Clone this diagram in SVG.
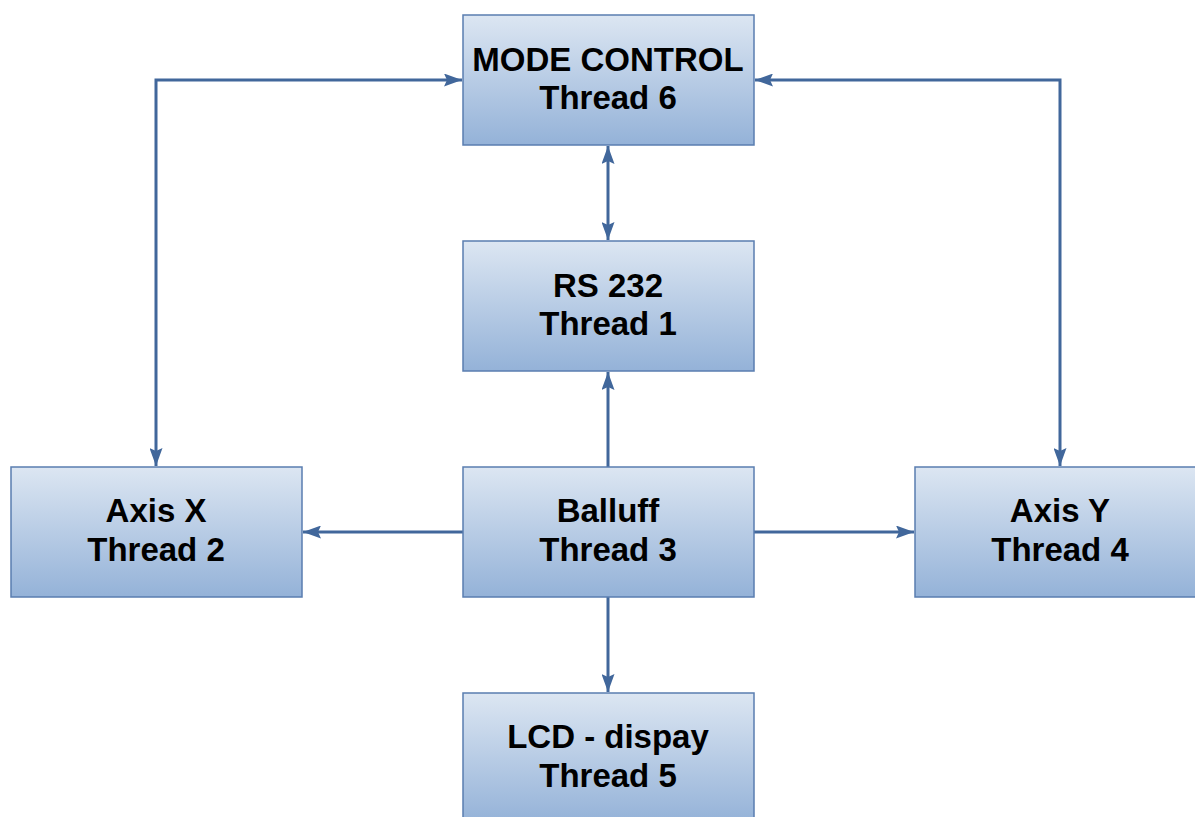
<svg xmlns="http://www.w3.org/2000/svg" width="1195" height="817" viewBox="0 0 1195 817">
<style>
.box{fill:url(#g);stroke:#5a7db0;stroke-width:1.5}
.t{font-family:"Liberation Sans",Arial,sans-serif;font-weight:bold;font-size:33px;fill:#000;text-anchor:middle}
.c{fill:none;stroke:#41679b;stroke-width:3}
</style>
<defs>
<linearGradient id="g" x1="0" y1="0" x2="0" y2="1">
<stop offset="0" stop-color="#dce6f2"/>
<stop offset="1" stop-color="#94b2d8"/>
</linearGradient>
<marker id="ae" viewBox="0 0 18 13" refX="18" refY="6.5" markerWidth="18" markerHeight="13" markerUnits="userSpaceOnUse" orient="auto">
<path d="M0,0 L18,6.5 L0,13 L3,6.5 Z" fill="#41679b"/>
</marker>
<marker id="as" viewBox="0 0 18 13" refX="0" refY="6.5" markerWidth="18" markerHeight="13" markerUnits="userSpaceOnUse" orient="auto">
<path d="M18,0 L0,6.5 L18,13 L15,6.5 Z" fill="#41679b"/>
</marker>
</defs>
<rect width="1195" height="817" fill="#fff"/>
<g id="connectors">
<path class="c" d="M156,466 L156,80 L462,80" marker-start="url(#as)" marker-end="url(#ae)"/>
<path class="c" d="M1060,466 L1060,80 L755,80" marker-start="url(#as)" marker-end="url(#ae)"/>
<path class="c" d="M608,146 L608,240" marker-start="url(#as)" marker-end="url(#ae)"/>
<path class="c" d="M608,467 L608,372" marker-end="url(#ae)"/>
<path class="c" d="M463,532 L303,532" marker-end="url(#ae)"/>
<path class="c" d="M754,532 L914,532" marker-end="url(#ae)"/>
<path class="c" d="M608,597 L608,692" marker-end="url(#ae)"/>
</g>
<g id="mode">
<rect class="box" x="463" y="15" width="291" height="130"/>
<text class="t" x="608" y="71">MODE CONTROL</text>
<text class="t" x="608" y="109">Thread 6</text>
</g>
<g id="rs232">
<rect class="box" x="463" y="241" width="291" height="130"/>
<text class="t" x="608" y="297">RS 232</text>
<text class="t" x="608" y="335">Thread 1</text>
</g>
<g id="axisx">
<rect class="box" x="11" y="467" width="291" height="130"/>
<text class="t" x="156" y="522">Axis X</text>
<text class="t" x="156" y="561">Thread 2</text>
</g>
<g id="balluff">
<rect class="box" x="463" y="467" width="291" height="130"/>
<text class="t" x="608" y="522">Balluff</text>
<text class="t" x="608" y="561">Thread 3</text>
</g>
<g id="axisy">
<rect class="box" x="915" y="467" width="291" height="130"/>
<text class="t" x="1060" y="522">Axis Y</text>
<text class="t" x="1060" y="561">Thread 4</text>
</g>
<g id="lcd">
<rect class="box" x="463" y="693" width="291" height="130"/>
<text class="t" x="608" y="748">LCD - dispay</text>
<text class="t" x="608" y="787">Thread 5</text>
</g>
</svg>
